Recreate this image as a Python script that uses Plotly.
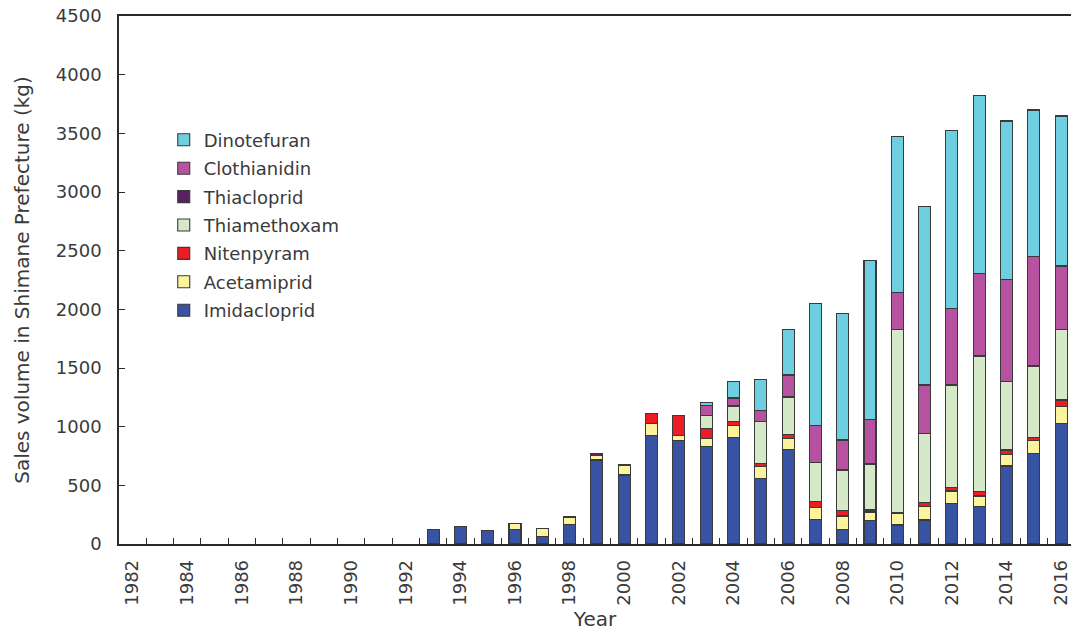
import plotly.graph_objects as go

years = list(range(1982, 2017))

# values in kg (None = not sold)
N = None
imidacloprid = [N]*11 + [120, 150, 112, 125, 62, 168, 716, 588, 926, 880, 829, 906, 556, 809,
                         210, 125, 199, 162, 205, 347, 318, 665, 773, 1029]
acetamiprid = [N]*14 + [50, 72, 60, 42, 85, 102, 46, 72, 102, 103, 88,
                        100, 114, 74, 100, 113, 105, 91, 99, 108, 141]
nitenpyram = [N]*19 + [85, 170, 85, 34, 29, 40, 56, 45, 17, 8, 34, 31, 37, 37, 28, 57]
thiamethoxam = [N]*21 + [113, 134, 354, 310, 330, 347, 392, 1560, 591, 872, 1156, 582, 602, 603]
thiacloprid = [N]*16 + [10, 12, 8, N, N, N, 8, N, 10, N, N, N, N, N, N, N, N, 8, N]
clothianidin = [N]*21 + [85, 60, 94, 183, 312, 255, 380, 312, 412, 654, 705, 873, 930, 539]
dinotefuran = [N]*21 + [23, 142, 267, 386, 1043, 1080, 1358, 1330, 1520, 1519, 1514, 1349, 1250, 1279]

series = [
    ("Imidacloprid", imidacloprid, "#3953A4"),
    ("Acetamiprid", acetamiprid, "#FBF49C"),
    ("Nitenpyram", nitenpyram, "#ED1C24"),
    ("Thiamethoxam", thiamethoxam, "#D5E8C8"),
    ("Thiacloprid", thiacloprid, "#5B1F66"),
    ("Clothianidin", clothianidin, "#B752A0"),
    ("Dinotefuran", dinotefuran, "#6ECFE0"),
]

tick_years = list(range(1982, 2017, 2))
y_ticks = list(range(0, 4501, 500))

FONT = "DejaVu Sans, Arial, sans-serif"
TXT = "#3a3a3a"
LINE = "#2a2a2a"

fig = go.Figure()
n = len(series)
for i, (name, vals, col) in enumerate(series):
    fig.add_trace(go.Bar(
        x=years, y=vals, name=name, width=0.44, legendgroup=name,
        legendrank=n - i,
        marker=dict(color=col, line=dict(color="#3a3a3a", width=1.1)),
    ))

fig.update_layout(
    width=1071, height=631,
    barmode="stack",
    paper_bgcolor="white", plot_bgcolor="white",
    margin=dict(l=119, r=0, t=16, b=87, autoexpand=False),
    font=dict(family=FONT, size=18, color=TXT),
    showlegend=True,
    legend=dict(
        traceorder="grouped", tracegroupgap=2,
        x=0.047, y=0.80, xanchor="left", yanchor="top",
        xref="paper", yref="paper",
        font=dict(family=FONT, size=18, color=TXT),
        bgcolor="rgba(0,0,0,0)", itemwidth=30,
    ),
    xaxis=dict(
        range=[1981.5, 2016.36], tickmode="array", tickvals=tick_years,
        ticktext=[str(y) for y in tick_years], tickangle=-90, ticks="",
        showline=True, linecolor=LINE, linewidth=1.5, mirror=True,
        showgrid=False, zeroline=False, ticklabelstandoff=7,
        ticklabeloverflow="allow",
        minor=dict(tickmode="array", tickvals=[y + 0.5 for y in years[:-1]],
                   ticks="inside", ticklen=6, tickcolor=LINE, tickwidth=1.2, showgrid=False),
        title=dict(text="Year", font=dict(family=FONT, size=20, color=TXT), standoff=8),
        automargin=False,
    ),
    yaxis=dict(
        range=[0, 4500], tickmode="array", tickvals=y_ticks,
        ticks="inside", ticklen=6, tickcolor=LINE, tickwidth=1.2,
        showline=True, linecolor=LINE, linewidth=1.5, mirror=False,
        showgrid=False, zeroline=False, ticklabelstandoff=12,
        ticklabeloverflow="allow",
        title=dict(text="Sales volume in Shimane Prefecture (kg)",
                   font=dict(family=FONT, size=20, color=TXT), standoff=21),
        automargin=False,
    ),
)

fig.write_html(
    "out.html",
    config={"displayModeBar": False},
    post_script="document.body.style.margin='0';document.body.style.overflow='hidden';",
)
